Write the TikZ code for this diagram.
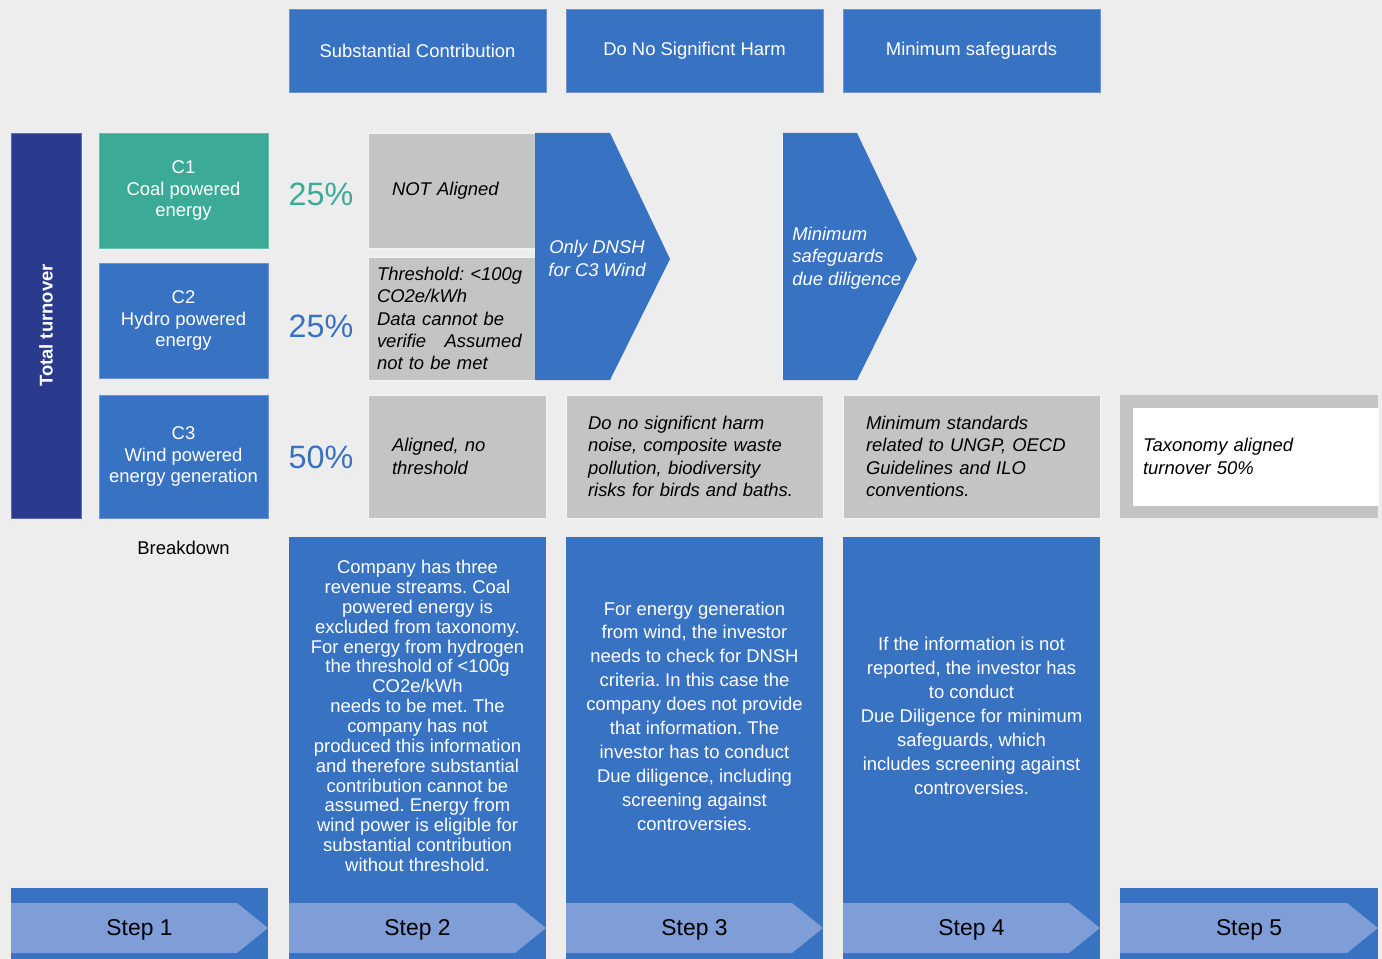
\documentclass[tikz,border=0pt]{standalone}
\usepackage{fontspec}
\setmainfont{Liberation Sans}
\usetikzlibrary{positioning}

\definecolor{pgbg}{RGB}{237,237,237}
\definecolor{tblue}{RGB}{56,114,194}
\definecolor{tnavy}{RGB}{42,59,142}
\definecolor{tteal}{RGB}{59,170,151}
\definecolor{tgray}{RGB}{196,196,196}
\definecolor{tlight}{RGB}{127,157,214}

\newcommand{\fsz}[2]{\fontsize{#1}{#2}\selectfont}

\tikzset{
  colbox/.style={fill=#1, draw=#1!75!white, line width=0.4pt, text=white, inner sep=0pt, align=center},
  hdr/.style={colbox=tblue, minimum width=5.14cm, minimum height=1.66cm, font=\fsz{10.5}{12}},
  cbox/.style={colbox=#1, minimum width=3.38cm, font=\fsz{10.5}{12.2}},
  pct/.style={font=\fsz{18.4}{20}, text=#1},
  graybox/.style={fill=tgray, draw=white!80!tgray, line width=0.4pt, text=black, align=left, inner ysep=0pt, font=\fsz{10.5}{12.75}\itshape},
  arrtext/.style={text=white, inner sep=0pt, font=\fsz{10.5}{12.9}\itshape},
  bodytext/.style={text=white, align=center, inner sep=0pt},
  steptext/.style={text=black, inner sep=0pt, font=\fsz{13}{15}}
}

\frenchspacing

\begin{document}
\begin{tikzpicture}[x=0.02cm, y=-0.02cm]
	  \useasboundingbox (0,0) rectangle (1382,959);
	  \fill[pgbg] (0,0) rectangle (1382,959);

	  % criteria headers
	  \node (hsc) [hdr] at (417.5,50.5) {Substantial Contribution};
	  \node (hdnsh) [hdr] at (694.5,50.5) {Do No Significnt Harm};
	  \node (hms) [hdr] at (971.5,50.5) {Minimum safeguards};

	  % breakdown of turnover
	  \node (total) [colbox=tnavy, rotate=90, minimum width=7.7cm, minimum height=1.4cm, font=\fsz{10.5}{12}\bfseries] at (46,325.5) {Total turnover};
	  \node (c1) [cbox=tteal, minimum height=2.3cm] at (183.5,190.5) {C1\\Coal powered\\energy};
	  \node (c2) [cbox=tblue, minimum height=2.3cm] at (183.5,320.5) {C2\\Hydro powered\\energy};
	  \node (c3) [cbox=tblue, minimum height=2.46cm] at (183.5,456.5) {C3\\Wind powered\\energy generation};
	  \node (brk) [text=black, font=\fsz{10.5}{12}] at (183.5,548) {Breakdown};

	  \node (p1) [pct=tteal] at (321,194) {25\%};
	  \node (p2) [pct=tblue] at (321,326) {25\%};
	  \node (p3) [pct=tblue] at (321,457) {50\%};

	  % step 2
	  \node (notal) [graybox, minimum width=3.34cm, minimum height=2.3cm, inner xsep=0.48cm, text width=2.38cm] at (451.5,190.5) {NOT Aligned};
	  \node (thr) [graybox, minimum width=3.34cm, minimum height=2.46cm, inner xsep=0.18cm, text width=2.98cm] at (451.5,318.5) {Threshold: <100g\\CO2e/kWh\\Data cannot be\\verifie\quad Assumed\\not to be met};
	  \node (alig) [graybox, minimum width=3.56cm, minimum height=2.46cm, inner xsep=0.48cm, text width=2.6cm] at (457,456.5) {Aligned, no\\threshold};

	  % step 3 and 4 arrows
	  \fill[tblue] (535,133) -- (610,133) -- (670,259) -- (610,380) -- (535,380) -- cycle;
	  \node (onlyd) [arrtext, align=center] at (597,258.5) {Only DNSH\\for C3 Wind};
	  \fill[tblue] (783,133) -- (857,133) -- (917,259) -- (857,380) -- (783,380) -- cycle;
	  \node (msdd) [arrtext, align=left, anchor=west] at (792,258) {Minimum\\safeguards\\due diligence};

	  \node (dnshc) [graybox, minimum width=5.14cm, minimum height=2.46cm, inner xsep=0.44cm, text width=4.26cm] at (694.5,456.5) {Do no significnt harm\\noise, composite waste\\pollution, biodiversity\\risks for birds and baths.};
	  \node (msc) [graybox, minimum width=5.14cm, minimum height=2.46cm, inner xsep=0.46cm, text width=4.22cm] at (971.5,456.5) {Minimum standards\\related to UNGP, OECD\\Guidelines and ILO\\conventions.};

	  % step 5
	  \fill[tgray] (1120,395) rectangle (1378,518);
	  \node (res) [graybox, fill=white, draw=white, minimum width=4.9cm, minimum height=1.94cm, inner xsep=0.2cm, text width=4.5cm] at (1255.5,456.5) {Taxonomy aligned\\turnover 50\%};

	  % explanations
	  \fill[tblue] (289,537) rectangle (546,959);
	  \fill[tblue] (566,537) rectangle (823,959);
	  \fill[tblue] (843,537) rectangle (1100,959);
	  \node (exsc) [bodytext, font=\fsz{10.5}{11.3}] at (417.5,716) {Company has three\\revenue streams. Coal\\powered energy is\\excluded from taxonomy.\\For energy from hydrogen\\the threshold of <100g\\CO2e/kWh\\needs to be met. The\\company has not\\produced this information\\and therefore substantial\\contribution cannot be\\assumed. Energy from\\wind power is eligible for\\substantial contribution\\without threshold.};
	  \node (exdnsh) [bodytext, font=\fsz{10.5}{13.6}] at (694.5,716) {For energy generation\\from wind, the investor\\needs to check for DNSH\\criteria. In this case the\\company does not provide\\that information. The\\investor has to conduct\\Due diligence, including\\screening against\\controversies.};
	  \node (exms) [bodytext, font=\fsz{10.5}{13.6}] at (971.5,716) {If the information is not\\reported, the investor has\\to conduct\\Due Diligence for minimum\\safeguards, which\\includes screening against\\controversies.};

	  % steps
	  \foreach \l/\r/\n in {11/268/1, 289/546/2, 566/823/3, 843/1100/4, 1120/1378/5} {
	    \fill[tblue] (\l,888) rectangle (\r,959);
	    \fill[tlight] (\l,903) -- (\r-31,903) -- (\r,928) -- (\r-31,953) -- (\l,953) -- cycle;
	    \node (step\n) [steptext] at ({(\l+\r)/2},930) {Step \n};
	  }
	\end{tikzpicture}
\end{document}
